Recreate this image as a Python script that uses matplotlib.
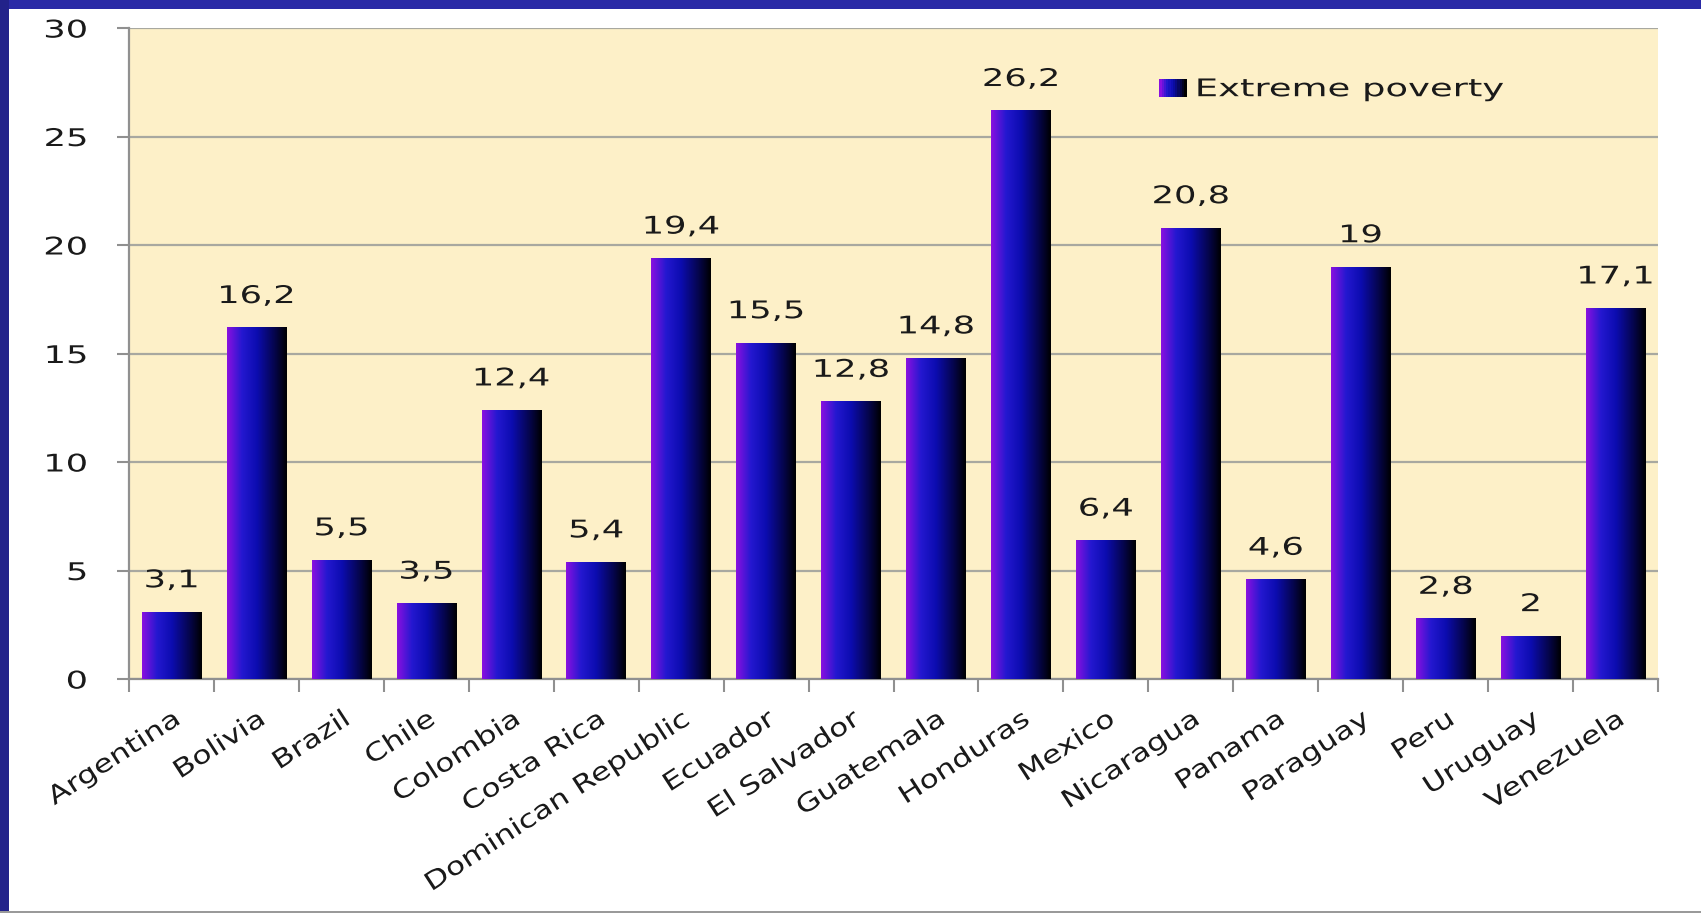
import numpy as np
import matplotlib
matplotlib.use("Agg")
import matplotlib.pyplot as plt
import matplotlib.patheffects as pe
from matplotlib.colors import LinearSegmentedColormap
from matplotlib.patches import Rectangle
from matplotlib.legend_handler import HandlerBase
from matplotlib.transforms import Affine2D

countries = ["Argentina", "Bolivia", "Brazil", "Chile", "Colombia", "Costa Rica",
             "Dominican Republic", "Ecuador", "El Salvador", "Guatemala", "Honduras",
             "Mexico", "Nicaragua", "Panama", "Paraguay", "Peru", "Uruguay", "Venezuela"]
extreme_poverty = [3.1, 16.2, 5.5, 3.5, 12.4, 5.4, 19.4, 15.5, 12.8, 14.8, 26.2,
                   6.4, 20.8, 4.6, 19, 2.8, 2, 17.1]
series_name = "Extreme poverty"
y_ticks = [0, 5, 10, 15, 20, 25, 30]

TXT = "#1a1a1a"

# horizontal gradient used by the bars (purple -> blue -> black)
grad_cmap = LinearSegmentedColormap.from_list(
    "bar_grad", [(0.0, "#8a10e0"), (0.25, "#2418d0"), (0.5, "#0c0cb0"),
                 (0.8, "#05054a"), (1.0, "#000000")])
grad = np.linspace(0, 1, 256).reshape(1, -1)


class Stretch(pe.AbstractPathEffect):
    """Widen text along its baseline (the slide's text looks stretched)."""

    def __init__(self, sx, anchor="center"):
        super().__init__()
        self.sx = sx
        self.anchor = anchor

    def draw_path(self, renderer, gc, tpath, affine, rgbFace=None):
        ext = tpath.get_extents()
        if self.anchor == "left":
            cx = ext.x0
        elif self.anchor == "right":
            cx = ext.x1
        else:
            cx = (ext.x0 + ext.x1) / 2
        pre = Affine2D().translate(-cx, 0).scale(self.sx, 1).translate(cx, 0)
        renderer.draw_path(gc, tpath, pre + affine, rgbFace)


class GradientHandler(HandlerBase):
    def create_artists(self, legend, orig_handle, xdescent, ydescent,
                       width, height, fontsize, trans):
        n = 12
        h = height * 1.05
        wd = h * 1.5
        x0 = -xdescent + (width - wd)
        y0 = -ydescent + (height - h) / 2
        arts = []
        for k in range(n):
            r = Rectangle((x0 + k * wd / n, y0), wd / n + 0.3, h,
                          facecolor=grad_cmap(k / (n - 1)), edgecolor="none",
                          transform=trans)
            arts.append(r)
        return arts


fig = plt.figure(figsize=(17.01, 9.13), dpi=100)
fig.patch.set_facecolor("white")

# blue frame on top and left like the slide
fig.patches.append(Rectangle((0, 1 - 9 / 913), 1, 9 / 913, transform=fig.transFigure,
                             facecolor="#2a2aa6", edgecolor="none", zorder=0))
fig.patches.append(Rectangle((0, 0), 9 / 1701, 1, transform=fig.transFigure,
                             facecolor="#22228a", edgecolor="none", zorder=0))
fig.patches.append(Rectangle((0, 0), 1, 2 / 913, transform=fig.transFigure,
                             facecolor="#9a9a9a", edgecolor="none", zorder=0))

ax = fig.add_axes([129 / 1701, 1 - 679 / 913, (1658 - 129) / 1701, (679 - 28) / 913])
ax.set_facecolor("#fdf0c8")

x = np.arange(len(countries))
w = 0.7
for xi, v in zip(x, extreme_poverty):
    bar = ax.bar(xi, v, width=w, color="none", edgecolor="none", zorder=3)[0]
    im = ax.imshow(grad, extent=[xi - w / 2, xi + w / 2, 0, v], aspect="auto",
                   cmap=grad_cmap, zorder=3, interpolation="bilinear")
    im.set_clip_path(bar)
    label = ("%g" % v).replace(".", ",")
    ax.annotate(label, (xi, v), xytext=(0, 14), textcoords="offset points",
                ha="center", va="bottom", fontsize=17.5, color=TXT, zorder=4,
                path_effects=[Stretch(1.45, "center")])

ax.set_xlim(-0.5, len(countries) - 0.5)
ax.set_ylim(0, 30)
ax.set_aspect("auto")
ax.set_yticks(y_ticks)
ax.yaxis.grid(True, color="#a8a8a0", linewidth=1.6, zorder=1)
ax.set_axisbelow(True)

# category boundary ticks, labels at centres
ax.set_xticks(np.arange(len(countries) + 1) - 0.5)
ax.set_xticklabels([])
ax.set_xticks(x, minor=True)
ax.set_xticklabels(countries, minor=True, rotation=33, ha="right",
                   rotation_mode="anchor", fontsize=18, color=TXT)
ax.tick_params(axis="x", which="minor", length=0, pad=20)
ax.tick_params(axis="x", which="major", length=9, width=1.5, color="#909090")
ax.tick_params(axis="y", length=9, width=1.5, color="#909090", labelsize=17.5,
               labelcolor=TXT, pad=21)
for t in ax.get_xticklabels(minor=True):
    t.set_path_effects([Stretch(1.25, "right")])
for t in ax.get_yticklabels():
    t.set_path_effects([Stretch(1.45, "right")])

for s in ["top", "right"]:
    ax.spines[s].set_visible(False)
for s in ["left", "bottom"]:
    ax.spines[s].set_color("#909090")
    ax.spines[s].set_linewidth(1.6)

leg = ax.legend([Rectangle((0, 0), 1, 1)], [series_name],
                handler_map={Rectangle: GradientHandler()},
                loc="center left", bbox_to_anchor=(0.674, 0.906), frameon=False,
                fontsize=17.5, borderpad=0, borderaxespad=0,
                handlelength=1.1, handletextpad=0.4, labelcolor=TXT)
for t in leg.get_texts():
    t.set_path_effects([Stretch(1.52, "left")])

fig.savefig("out.png", dpi=100, facecolor=fig.get_facecolor())
